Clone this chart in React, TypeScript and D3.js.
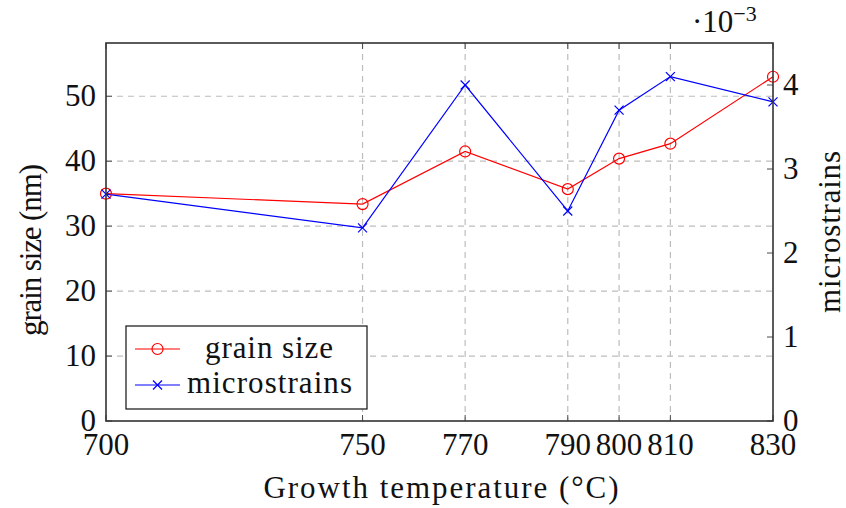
import React from "react";
import * as d3 from "d3";

const temperatures = [700, 750, 770, 790, 800, 810, 830];
const grainSize = [35.0, 33.4, 41.5, 35.7, 40.4, 42.7, 53.0];
const microstrains = [2.7, 2.3, 4.0, 2.5, 3.7, 4.1, 3.8];
const leftTicks = [0, 10, 20, 30, 40, 50];
const rightTicks = [0, 1, 2, 3, 4];

const W = 846;
const H = 508;
const L = 106, R = 773, T = 43, B = 421;

export default function App() {
  const x = d3.scaleLinear().domain([700, 830]).range([L, R]);
  const yL = d3.scaleLinear().domain([0, 58.2]).range([B, T]);
  const yR = d3.scaleLinear().domain([0, 4.5]).range([B, T]);

  const lineL = d3.line<number>().x((_, i) => x(temperatures[i])).y((d) => yL(d));
  const lineR = d3.line<number>().x((_, i) => x(temperatures[i])).y((d) => yR(d));

  const gridColor = "#bdbdbd";
  const tickColor = "#4d4d4d";
  const ms = 4.5;

  const cross = (cx: number, cy: number, key: string) => (
    <g key={key} stroke="blue" strokeWidth={1.2}>
      <line x1={cx - ms} y1={cy - ms} x2={cx + ms} y2={cy + ms} />
      <line x1={cx - ms} y1={cy + ms} x2={cx + ms} y2={cy - ms} />
    </g>
  );

  const ts = { fontFamily: "'Liberation Serif'" };

  return (
    <svg width={W} height={H} style={{ position: "absolute", left: 0, top: 0, background: "white" }}>
      {/* grid */}
      {temperatures.filter((t) => t !== 700 && t !== 830).map((t) => (
        <line key={"gx" + t} x1={x(t)} x2={x(t)} y1={T} y2={B} stroke={gridColor} strokeWidth={1.2} strokeDasharray="6 5" />
      ))}
      {leftTicks.filter((v) => v !== 0).map((v) => (
        <line key={"gy" + v} x1={L} x2={R} y1={yL(v)} y2={yL(v)} stroke={gridColor} strokeWidth={1.2} strokeDasharray="6 5" />
      ))}
      {/* tick marks */}
      {temperatures.map((t) => (
        <g key={"tx" + t} stroke={tickColor} strokeWidth={1}>
          <line x1={x(t)} x2={x(t)} y1={B} y2={B - 6} />
          <line x1={x(t)} x2={x(t)} y1={T} y2={T + 6} />
        </g>
      ))}
      {leftTicks.map((v) => (
        <line key={"tl" + v} x1={L} x2={L + 6} y1={yL(v)} y2={yL(v)} stroke={tickColor} strokeWidth={1} />
      ))}
      {rightTicks.map((v) => (
        <line key={"tr" + v} x1={R} x2={R - 6} y1={yR(v)} y2={yR(v)} stroke={tickColor} strokeWidth={1} />
      ))}
      {/* series */}
      <path d={lineL(grainSize) || ""} fill="none" stroke="red" strokeWidth={1.2} />
      <path d={lineR(microstrains) || ""} fill="none" stroke="blue" strokeWidth={1.2} />
      {grainSize.map((v, i) => (
        <circle key={"c" + i} cx={x(temperatures[i])} cy={yL(v)} r={5.5} fill="none" stroke="red" strokeWidth={1.2} />
      ))}
      {microstrains.map((v, i) => cross(x(temperatures[i]), yR(v), "m" + i))}
      {/* frame */}
      <rect x={L} y={T} width={R - L} height={B - T} fill="none" stroke="#333" strokeWidth={1.6} />
      {/* tick labels */}
      {temperatures.map((t) => (
        <text key={"lx" + t} style={ts} x={x(t)} y={455} fontSize={31} textAnchor="middle" fill="#111">{t}</text>
      ))}
      {leftTicks.map((v) => (
        <text key={"ll" + v} style={ts} x={96} y={yL(v) + 10} fontSize={31} textAnchor="end" fill="#111">{v}</text>
      ))}
      {rightTicks.map((v) => (
        <text key={"lr" + v} style={ts} x={783} y={yR(v) + 10} fontSize={31} textAnchor="start" fill="#111">{v}</text>
      ))}
      {/* multiplier */}
      <text style={ts} x={692} y={32} fontSize={31} fill="#111">
        ·10<tspan fontSize={22} dy={-11}>−3</tspan>
      </text>
      {/* axis labels */}
      <text style={ts} x={441} y={498} fontSize={31} textAnchor="middle" fill="#111" textLength={355} lengthAdjust="spacing">Growth temperature (°C)</text>
      <text style={ts} transform="translate(41,250) rotate(-90)" fontSize={31} textAnchor="middle" fill="#111" textLength={172} lengthAdjust="spacing">grain size (nm)</text>
      <text style={ts} transform="translate(840,232) rotate(-90)" fontSize={31} textAnchor="middle" fill="#111" textLength={162} lengthAdjust="spacing">microstrains</text>
      {/* legend */}
      <rect x={126} y={326} width={241} height={83} fill="white" stroke="#111" strokeWidth={1.2} />
      <line x1={135} x2={180} y1={349} y2={349} stroke="red" strokeWidth={1.2} />
      <circle cx={157.5} cy={349} r={5.5} fill="none" stroke="red" strokeWidth={1.2} />
      <text style={ts} x={269} y={358} fontSize={31} textAnchor="middle" fill="#111" textLength={128} lengthAdjust="spacing">grain size</text>
      <line x1={135} x2={180} y1={385} y2={385} stroke="blue" strokeWidth={1.2} />
      {cross(157.5, 385, "legm")}
      <text style={ts} x={269.5} y={393} fontSize={31} textAnchor="middle" fill="#111" textLength={165} lengthAdjust="spacing">microstrains</text>
    </svg>
  );
}
